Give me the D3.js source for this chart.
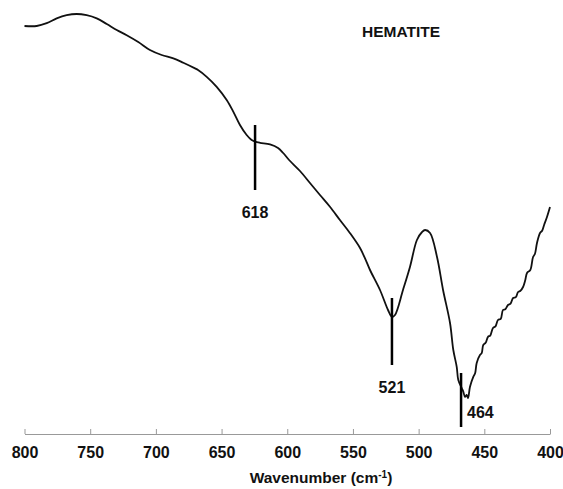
<!DOCTYPE html>
<html>
<head>
<meta charset="utf-8">
<script src="https://cdn.jsdelivr.net/npm/d3@7"></script>
<style>
  body { margin: 0; background: #fff; }
  text { font-family: "Liberation Sans", Arial, sans-serif; font-weight: bold; }
</style>
</head>
<body>
<div id="chart"></div>
<script>
// IR spectrum of hematite, wavenumber (cm-1) vs transmittance (arbitrary units)
const wavenumbers = [800, 790.7, 783.1, 775.5, 767.9, 760.3, 752.7, 745, 737.4, 729.8,
  722.2, 713.4, 704.5, 695.6, 686.7, 679.1, 670.2, 667.9, 661.3, 653.7,
  646.1, 641.1, 636, 630.9, 627.1, 624.5, 620.7, 613.1, 607, 603.1,
  598.6, 590.3, 582.7, 575.1, 567.5, 559.9, 552.2, 544.6, 540.8, 537,
  529.4, 523.3,
  520.3, 518, 511.9, 506.6, 501.3, 497.4, 495.1, 491.3, 486, 481.4,
  476.1, 473.6, 471, 469.8, 467.2, 466, 464.7, 463.4, 462.4, 460.9,
  458.4, 457, 455.8, 453.3, 452, 450.8, 449, 447.2, 445.5, 443.4,
  441.5, 439.6, 437.5, 435.8, 434, 432, 430, 428.1, 426, 424.3,
  422.5, 420.5, 418.8, 417.5, 415, 412.9, 411.5, 409.9, 407.6, 406, 404.5, 402.3, 400];
const transmittance = [102, 102, 102.7, 103.9, 104.7, 105, 104.7, 103.9, 102.5, 101,
  99.7, 98, 96, 94.75, 93.9, 92.8, 91.4, 91, 89.3, 86.8,
  83.5, 80.6, 77.25, 74.75, 73.5, 73.1, 72.8, 72.4, 71.5, 70.25,
  68.5, 65.75, 62.75, 59.75, 56.8, 53.5, 50.2, 46.5, 43.9, 41,
  36, 31,
  29.25, 29.75, 36, 41.75, 48.5, 50.5, 51, 50.25, 44.25, 36,
  27.75, 21, 16.8, 13.5, 11.5, 10.6, 9.3, 9.75, 9, 11.8,
  14.3, 15.2, 17.75, 19.75, 20.2, 22.25, 22.8, 24.3, 24.6, 26.5,
  26.9, 28.5, 28.8, 31, 31.2, 32.25, 32.6, 34, 34.2, 35.5,
  35.8, 36.75, 38.5, 40.25, 41, 44.25, 45, 47.75, 50.25, 50.8, 52.25, 54.25, 56.75];

// band markers: where the bar is drawn, its label, and its top/bottom
const markerPos = [624.5, 520.3, 467.7];
const markerLabels = ["618", "521", "464"];
const markerTop = [77.25, 34, 15.25];
const markerBottom = [61, 17.25, 1.75];

const xTicks = [800, 750, 700, 650, 600, 550, 500, 450, 400];

const width = 563, height = 489;

const svg = d3.select('#chart')
  .append('svg')
  .attr('width', width)
  .attr('height', height);

const x = d3.scaleLinear()
  .domain([800, 400])
  .range([24.5, 550]);

const y = d3.scaleLinear()
  .domain([0, 100])
  .range([434, 34]);

// x axis, ticks point upward
const axis = svg.append('g')
  .attr('transform', `translate(0,${y(0)})`)
  .call(d3.axisBottom(x).tickValues(xTicks).tickSizeInner(-5).tickSizeOuter(0));

axis.select('.domain').attr('stroke', '#999');
axis.selectAll('.tick line').attr('stroke', '#999');
axis.selectAll('.tick text')
  .attr('y', 24)
  .attr('dy', 0)
  .attr('fill', '#111')
  .style('font-size', '16px')
  .style('font-family', '"Liberation Sans", Arial, sans-serif')
  .style('font-weight', 'bold');

// axis title
const title = svg.append('text')
  .attr('x', 321)
  .attr('y', 483)
  .attr('text-anchor', 'middle')
  .attr('fill', '#111')
  .style('font-size', '15.5px');
title.append('tspan').text('Wavenumber (cm');
title.append('tspan').attr('dy', -5).style('font-size', '10px').text('-1');
title.append('tspan').attr('dy', 5).text(')');

// spectrum
const line = d3.line()
  .x((d, i) => x(wavenumbers[i]))
  .y(d => y(d))
  .curve(d3.curveCatmullRom.alpha(0.5));

svg.append('path')
  .datum(transmittance)
  .attr('fill', 'none')
  .attr('stroke', '#111')
  .attr('stroke-width', 1.8)
  .attr('d', line);

// band markers
svg.selectAll('.marker')
  .data(markerPos)
  .enter()
  .append('line')
  .attr('class', 'marker')
  .attr('x1', d => x(d))
  .attr('x2', d => x(d))
  .attr('y1', (d, i) => y(markerTop[i]))
  .attr('y2', (d, i) => y(markerBottom[i]))
  .attr('stroke', '#000')
  .attr('stroke-width', 2.5);

// labels: first two under the bar, last to its right
svg.selectAll('.mlabel')
  .data(markerPos)
  .enter()
  .append('text')
  .attr('class', 'mlabel')
  .attr('x', (d, i) => i < 2 ? x(d) : x(d) + 6)
  .attr('y', (d, i) => i < 2 ? y(markerBottom[i]) + 28 : y(markerBottom[i]) - 9)
  .attr('text-anchor', (d, i) => i < 2 ? 'middle' : 'start')
  .attr('fill', '#111')
  .style('font-size', '16px')
  .text((d, i) => markerLabels[i]);

svg.append('text')
  .attr('x', 362)
  .attr('y', 37)
  .attr('fill', '#111')
  .style('font-size', '15.5px')
  .text('HEMATITE');
</script>
</body>
</html>
